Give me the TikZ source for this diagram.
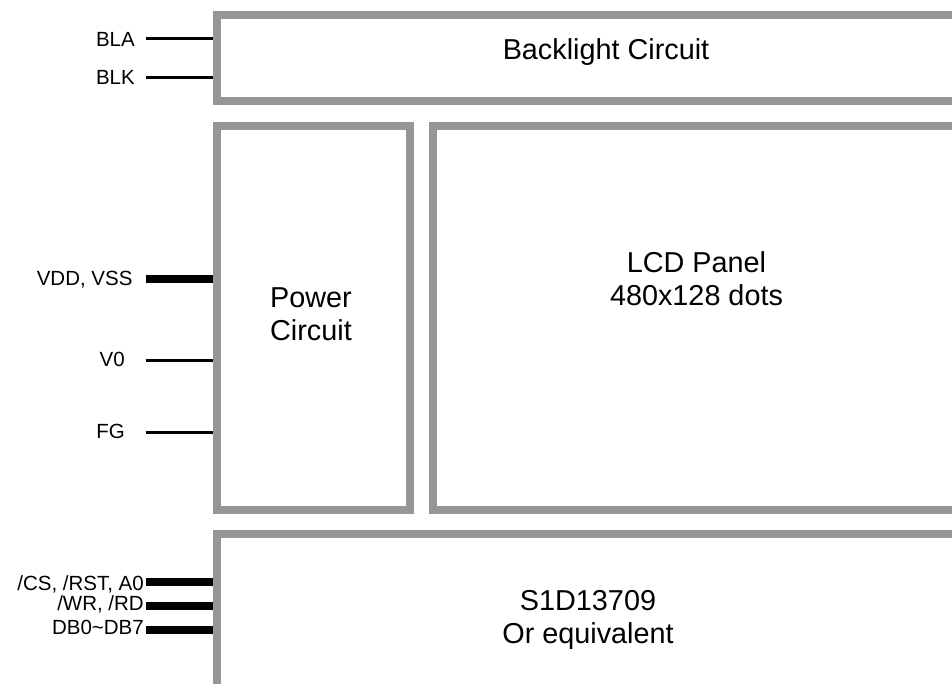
\documentclass[tikz,border=0pt]{standalone}
\usepackage{fontspec}
\setmainfont{Liberation Sans}
\definecolor{boxgray}{RGB}{150,150,150}
\begin{document}
\begin{tikzpicture}[x=1pt,y=-1pt,
  box/.style={draw=boxgray, line width=8pt, inner sep=0pt, outer sep=4pt},
  big/.style={font=\fontsize{28.8}{33}\selectfont, align=center, anchor=base, inner sep=0pt},
  pin/.style={font=\fontsize{20.5}{22}\selectfont, anchor=base east, inner sep=0pt},
  thinwire/.style={line width=3pt},
  buswire/.style={line width=8pt}]
\useasboundingbox (0,0) rectangle (952,684);
\fill[white] (0,0) rectangle (952,684);
\clip (0,0) rectangle (952,684);

% blocks
\node[box, minimum width=783pt, minimum height=86.5pt] (bl) at (608.5,58.25) {};
\node[box, minimum width=192.5pt, minimum height=384pt] (pw) at (313.25,317.7) {};
\node[box, minimum width=567pt, minimum height=384pt] (lcd) at (716.5,317.7) {};
\node[box, minimum width=783pt, minimum height=166pt] (s1d) at (608.5,617) {};

% block texts (anchor base = baseline of last line)
\node[big] (blt) at (606,60) {Backlight Circuit};
\node[big] (pwt) at (311,340) {Power\\Circuit};
\node[big] (lcdt) at (696.5,305.5) {LCD Panel\\480x128 dots};
\node[big] (s1dt) at (588,643) {S1D13709\\Or equivalent};

% pin labels
\node[pin] (bla) at (135,46.5) {BLA};
\node[pin] (blk) at (135,84.2) {BLK};
\node[pin] (vdd) at (132.7,286) {VDD, VSS};
\node[pin] (v0) at (125,366.5) {V0};
\node[pin] (fg) at (125,438.8) {FG};
\node[pin] (cs) at (144,590) {/CS, /RST, A0};
\node[pin] (wr) at (144,610.5) {/WR, /RD};
\node[pin] (db) at (144,634) {DB0\textasciitilde DB7};

% wire starts
\coordinate (wbla) at (146,39);
\coordinate (wblk) at (146,77.7);
\coordinate (wvdd) at (146,279);
\coordinate (wv0) at (146,360);
\coordinate (wfg) at (146,432.3);
\coordinate (wcs) at (146,581.5);
\coordinate (wwr) at (146,606);
\coordinate (wdb) at (146,630);

% wires
\draw[thinwire] (wbla) -- (wbla -| bl.west);
\draw[thinwire] (wblk) -- (wblk -| bl.west);
\draw[buswire] (wvdd) -- (wvdd -| pw.west);
\draw[thinwire] (wv0) -- (wv0 -| pw.west);
\draw[thinwire] (wfg) -- (wfg -| pw.west);
\draw[buswire] (wcs) -- (wcs -| s1d.west);
\draw[buswire] (wwr) -- (wwr -| s1d.west);
\draw[buswire] (wdb) -- (wdb -| s1d.west);
\end{tikzpicture}
\end{document}
